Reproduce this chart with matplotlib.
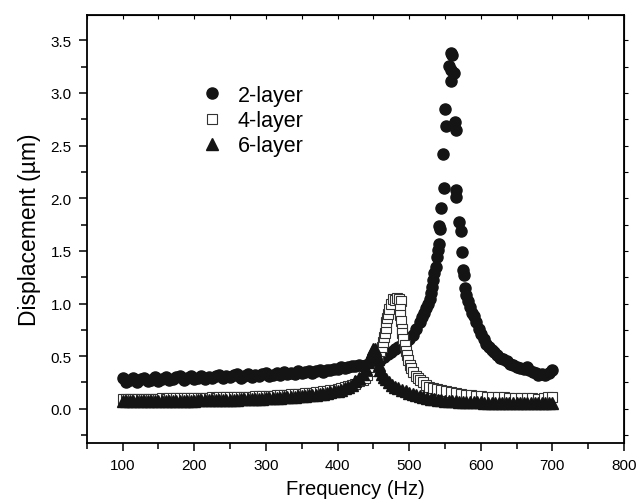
import matplotlib
matplotlib.use("Agg")
import matplotlib.pyplot as plt
from matplotlib.ticker import MultipleLocator

plt.rcParams['font.family'] = ['Liberation Sans', 'DejaVu Sans']

# 2-layer (filled circles)
f2 = [100, 105, 110, 115, 120, 125, 130, 135, 140, 145,
      150, 155, 160, 165, 170, 175, 180, 185, 190, 195,
      200, 205, 210, 215, 220, 225, 230, 235, 240, 245,
      250, 255, 260, 265, 270, 275, 280, 285, 290, 295,
      300, 305, 310, 315, 320, 325, 330, 335, 340, 345,
      350, 355, 360, 365, 370, 375, 380, 385, 390, 395,
      400, 405, 410, 415, 420, 425, 430, 435, 440, 445,
      450, 455, 460, 465, 470, 475, 480, 485, 490, 495,
      500, 505, 510, 515, 518, 521, 524, 526, 529, 531,
      532, 533, 535, 537, 539, 540, 542, 541, 543, 545,
      548, 547, 550, 551, 555, 558, 560, 559, 563, 559,
      564, 566, 566, 566, 569, 572, 574, 575, 576, 578,
      580, 582, 585, 588, 590, 594, 597, 600, 604, 607,
      611, 615, 618, 622, 627, 631, 636, 641, 645, 650,
      655, 660, 664, 668, 673, 677, 680, 685, 690, 695,
      700]
d2 = [0.29, 0.25, 0.27, 0.29, 0.25, 0.28, 0.29, 0.26, 0.27, 0.30,
      0.26, 0.28, 0.30, 0.27, 0.28, 0.30, 0.31, 0.27, 0.29, 0.31,
      0.28, 0.29, 0.31, 0.28, 0.30, 0.29, 0.31, 0.32, 0.29, 0.31,
      0.30, 0.32, 0.33, 0.29, 0.31, 0.33, 0.30, 0.32, 0.31, 0.33,
      0.34, 0.31, 0.32, 0.34, 0.32, 0.35, 0.33, 0.34, 0.33, 0.36,
      0.34, 0.35, 0.36, 0.34, 0.36, 0.37, 0.35, 0.37, 0.37, 0.38,
      0.38, 0.40, 0.39, 0.40, 0.41, 0.41, 0.42, 0.41, 0.42, 0.42,
      0.43, 0.44, 0.46, 0.49, 0.52, 0.54, 0.57, 0.59, 0.61, 0.63,
      0.66, 0.70, 0.76, 0.82, 0.87, 0.91, 0.96, 1.00, 1.04, 1.10,
      1.16, 1.22, 1.29, 1.35, 1.44, 1.51, 1.57, 1.74, 1.71, 1.91,
      2.10, 2.42, 2.85, 2.69, 3.26, 3.38, 3.36, 3.22, 3.19, 3.11,
      2.72, 2.65, 2.08, 2.01, 1.77, 1.69, 1.49, 1.32, 1.27, 1.15,
      1.08, 1.02, 0.97, 0.91, 0.88, 0.82, 0.76, 0.71, 0.66, 0.62,
      0.59, 0.56, 0.54, 0.51, 0.48, 0.47, 0.45, 0.43, 0.42, 0.40,
      0.39, 0.38, 0.40, 0.37, 0.35, 0.34, 0.32, 0.33, 0.32, 0.34,
      0.37]

# 4-layer (open squares)
f4 = [100, 105, 110, 115, 120, 125, 130, 135, 140, 145,
      150, 155, 160, 165, 170, 175, 180, 185, 190, 195,
      200, 205, 210, 215, 220, 225, 230, 235, 240, 245,
      250, 255, 260, 265, 270, 275, 280, 285, 290, 295,
      300, 305, 310, 315, 320, 325, 330, 335, 340, 345,
      350, 355, 360, 365, 370, 375, 380, 385, 390, 395,
      400, 405, 410, 415, 420, 425, 430, 435, 438, 441,
      445, 448, 450, 453, 456, 460, 462, 464, 465, 466,
      467, 468, 469, 470, 472, 474, 477, 480, 483, 486,
      488, 487, 487, 488, 490, 490, 492, 494, 496, 497,
      499, 501, 503, 506, 509, 512, 515, 519, 523, 528,
      533, 539, 545, 551, 558, 565, 572, 579, 586, 593,
      600, 608, 616, 624, 632, 640, 648, 656, 664, 672,
      680, 688, 694, 700]
d4 = [0.095, 0.09, 0.095, 0.09, 0.095, 0.095, 0.09, 0.095, 0.095, 0.095,
      0.095, 0.10, 0.095, 0.10, 0.10, 0.10, 0.10, 0.10, 0.10, 0.105,
      0.10, 0.105, 0.105, 0.105, 0.105, 0.11, 0.105, 0.11, 0.11, 0.11,
      0.11, 0.11, 0.115, 0.11, 0.115, 0.115, 0.115, 0.12, 0.12, 0.12,
      0.12, 0.12, 0.12, 0.13, 0.13, 0.13, 0.13, 0.14, 0.14, 0.14,
      0.14, 0.15, 0.15, 0.15, 0.16, 0.16, 0.17, 0.17, 0.18, 0.18,
      0.19, 0.20, 0.21, 0.22, 0.23, 0.24, 0.26, 0.27, 0.29, 0.32,
      0.36, 0.40, 0.45, 0.48, 0.51, 0.55, 0.59, 0.63, 0.68, 0.72,
      0.77, 0.82, 0.86, 0.90, 0.95, 1.00, 1.04, 1.03, 1.05, 1.04,
      1.02, 0.95, 0.89, 0.83, 0.76, 0.72, 0.66, 0.61, 0.55, 0.51,
      0.46, 0.42, 0.39, 0.35, 0.31, 0.29, 0.27, 0.25, 0.23, 0.21,
      0.20, 0.19, 0.18, 0.17, 0.16, 0.15, 0.14, 0.13, 0.13, 0.12,
      0.12, 0.115, 0.11, 0.11, 0.11, 0.105, 0.10, 0.10, 0.10, 0.10,
      0.095, 0.10, 0.11, 0.11]

# 6-layer (filled triangles)
f6 = [100, 105, 110, 115, 120, 125, 130, 135, 140, 145,
      150, 155, 160, 165, 170, 175, 180, 185, 190, 195,
      200, 205, 210, 215, 220, 225, 230, 235, 240, 245,
      250, 255, 260, 265, 270, 275, 280, 285, 290, 295,
      300, 305, 310, 315, 320, 325, 330, 335, 340, 345,
      350, 355, 360, 365, 370, 375, 380, 385, 390, 395,
      400, 405, 410, 415, 420, 425, 430, 435, 440, 443,
      446, 448, 450, 452, 454, 456, 458, 460, 462, 465,
      468, 472, 476, 480, 485, 490, 495, 500, 505, 510,
      515, 520, 525, 530, 535, 540, 545, 550, 555, 560,
      565, 570, 575, 580, 585, 590, 595, 600, 605, 610,
      615, 620, 625, 630, 635, 640, 645, 650, 655, 660,
      665, 670, 675, 680, 685, 690, 695, 700]
d6 = [0.07, 0.07, 0.07, 0.07, 0.07, 0.07, 0.07, 0.07, 0.07, 0.07,
      0.07, 0.07, 0.07, 0.07, 0.075, 0.075, 0.075, 0.075, 0.075, 0.075,
      0.075, 0.08, 0.08, 0.08, 0.08, 0.08, 0.08, 0.08, 0.085, 0.085,
      0.085, 0.085, 0.085, 0.09, 0.09, 0.09, 0.09, 0.095, 0.095, 0.095,
      0.10, 0.10, 0.10, 0.105, 0.105, 0.11, 0.11, 0.115, 0.115, 0.12,
      0.12, 0.125, 0.13, 0.13, 0.135, 0.14, 0.145, 0.15, 0.16, 0.165,
      0.17, 0.18, 0.20, 0.21, 0.23, 0.26, 0.29, 0.33, 0.38, 0.44,
      0.50, 0.54, 0.57, 0.57, 0.53, 0.47, 0.42, 0.37, 0.33, 0.30,
      0.28, 0.25, 0.23, 0.21, 0.195, 0.18, 0.165, 0.155, 0.14, 0.13,
      0.12, 0.11, 0.10, 0.095, 0.09, 0.085, 0.08, 0.078, 0.075, 0.072,
      0.07, 0.068, 0.066, 0.065, 0.064, 0.063, 0.062, 0.061, 0.06, 0.06,
      0.059, 0.058, 0.058, 0.057, 0.057, 0.056, 0.056, 0.055, 0.055, 0.055,
      0.054, 0.054, 0.054, 0.053, 0.053, 0.053, 0.052, 0.052]

ink = "#141414"

fig = plt.figure(figsize=(6.36, 5.02), dpi=100)
ax = fig.add_axes([0.1365, 0.1165, 0.8447, 0.8516])

ax.plot(f2, d2, linestyle="none", marker="o", markersize=8,
        color=ink, label="2-layer", zorder=2)
ax.plot(f4, d4, linestyle="none", marker="s", markersize=6.5,
        markerfacecolor="white", markeredgecolor="#333333",
        markeredgewidth=0.8, label="4-layer", zorder=3)
ax.plot(f6, d6, linestyle="none", marker="^", markersize=8.5,
        color=ink, label="6-layer", zorder=4)

ax.set_xlim(50, 800)
ax.set_ylim(-0.32, 3.74)
ax.set_xticks(range(100, 801, 100))
ax.xaxis.set_minor_locator(MultipleLocator(50))
ax.set_yticks([0.0, 0.5, 1.0, 1.5, 2.0, 2.5, 3.0, 3.5])
ax.set_yticklabels(["0.0", "0.5", "1.0", "1.5", "2.0", "2.5", "3.0", "3.5"])
ax.yaxis.set_minor_locator(MultipleLocator(0.25))

ax.tick_params(which="major", direction="out", length=6, width=1.1,
               labelsize=11, pad=5)
ax.tick_params(which="minor", direction="out", length=4, width=1.1)
for side in ax.spines:
    ax.spines[side].set_linewidth(1.3)

# short unlabeled ticks on the top and right frame
top = ax.secondary_xaxis("top")
top.set_xticks(range(100, 801, 100))
top.xaxis.set_minor_locator(MultipleLocator(50))
top.tick_params(which="both", direction="in", length=3, width=0.8,
                labeltop=False)
right = ax.secondary_yaxis("right")
right.set_yticks([0.0, 0.5, 1.0, 1.5, 2.0, 2.5, 3.0, 3.5])
right.yaxis.set_minor_locator(MultipleLocator(0.25))
right.tick_params(which="both", direction="out", length=3, width=0.8,
                  labelright=False)

ax.set_xlabel("Frequency (Hz)", fontsize=14.5, labelpad=5)
ax.set_ylabel("Displacement (µm)", fontsize=16.5, labelpad=7)

ax.legend(loc="upper left", bbox_to_anchor=(0.193, 0.862), frameon=False,
          fontsize=15.5, handlelength=1.0, handletextpad=0.7,
          labelspacing=0.2, borderpad=0, numpoints=1)

fig.savefig("out.png", dpi=100)
